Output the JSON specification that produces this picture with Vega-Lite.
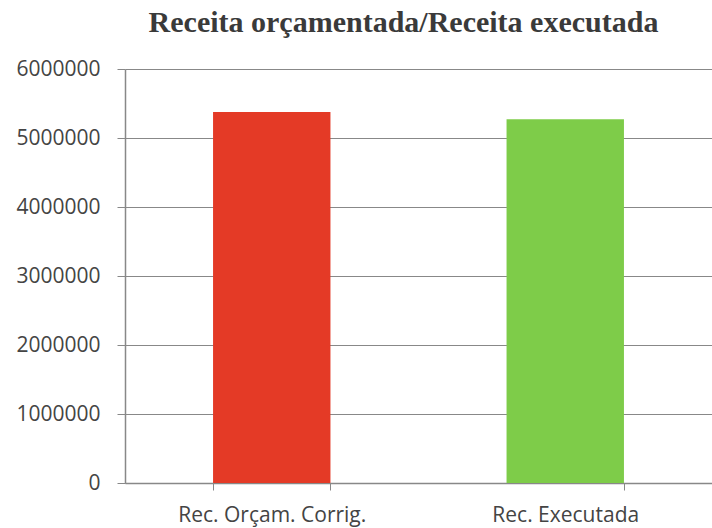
{
  "$schema": "https://vega.github.io/schema/vega-lite/v6.json",
  "width": 587,
  "height": 414,
  "autosize": "none",
  "padding": {"left": 125, "top": 69, "right": 0, "bottom": 45},
  "background": "white",
  "title": {
    "text": "Receita orçamentada/Receita executada",
    "font": "Liberation Serif",
    "fontSize": 30,
    "fontWeight": "bold",
    "color": "#3a3a3a",
    "offset": 20,
    "anchor": "middle",
    "dx": -15
  },
  "data": {
    "values": [
      {"categoria": "Rec. Orçam. Corrig.", "valor": 5377000},
      {"categoria": "Rec. Executada", "valor": 5272000}
    ]
  },
  "mark": {"type": "bar"},
  "encoding": {
    "x": {
      "field": "categoria",
      "type": "nominal",
      "sort": null,
      "scale": {"paddingInner": 0.6, "paddingOuter": 0.3},
      "axis": {
        "title": null,
        "labelAngle": 0,
        "labelFont": "Open Sans",
        "labelFontSize": 21,
        "labelColor": "#444",
        "labelPadding": 14,
        "labelLimit": 0,
        "tickBand": "extent",
        "tickColor": "#888",
        "tickSize": 7,
        "domainColor": "#888",
        "domainWidth": 1.5,
        "grid": false
      }
    },
    "y": {
      "field": "valor",
      "type": "quantitative",
      "scale": {"domain": [0, 6000000]},
      "axis": {
        "title": null,
        "values": [0, 1000000, 2000000, 3000000, 4000000, 5000000, 6000000],
        "format": "d",
        "labelFont": "Open Sans",
        "labelFontSize": 21,
        "labelColor": "#444",
        "labelPadding": 17,
        "tickColor": "#888",
        "tickSize": 8,
        "domainColor": "#888",
        "domainWidth": 1.5,
        "gridColor": "#888",
        "gridWidth": 1.2
      }
    },
    "color": {
      "field": "categoria",
      "type": "nominal",
      "scale": {"domain": ["Rec. Orçam. Corrig.", "Rec. Executada"], "range": ["#E43A26", "#7ECC49"]},
      "legend": null
    }
  },
  "config": {"view": {"stroke": null}}
}
